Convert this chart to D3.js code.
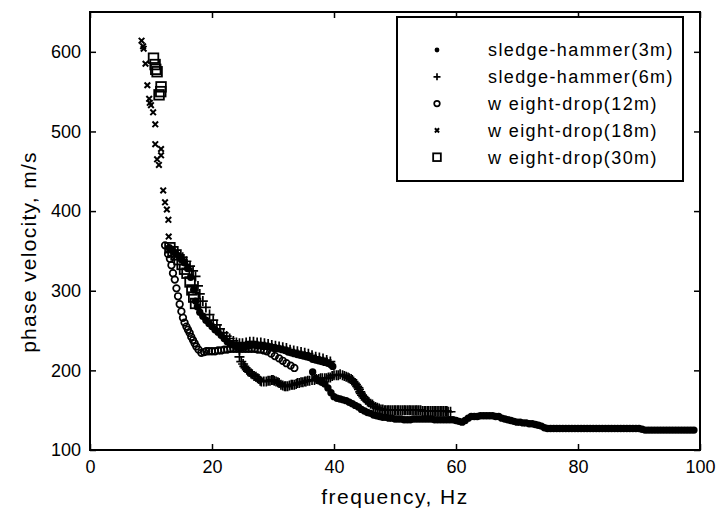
<!DOCTYPE html>
<html>
<head>
<meta charset="utf-8">
<script src="https://cdn.jsdelivr.net/npm/d3@7"></script>
<style>
  html, body { margin: 0; padding: 0; background: #fff; }
  svg { display: block; }
  text { font-family: "Liberation Sans", Arial, sans-serif; fill: #000; }
</style>
</head>
<body>
<svg id="chart" width="719" height="514"></svg>
<script>
// ---------------- data (frequency Hz, phase velocity m/s) ----------------
const seriesNames = ["sledge-hammer(3m)", "sledge-hammer(6m)", "w eight-drop(12m)", "w eight-drop(18m)", "w eight-drop(30m)"];
const xTicks = [0, 20, 40, 60, 80, 100];
const yTicks = [100, 200, 300, 400, 500, 600];

const sledge3m = [
  [13.0,354],[13.5,351],[14.0,347],[14.5,344],[15.0,339],[15.5,335],[16.0,328],[16.5,317],[17.0,301],[17.3,287],
  [17.6,280],[18.0,273],[18.5,268],[19.0,263],[19.5,259],[20.0,255],[20.5,251],[21.0,248],[21.5,244],[22.0,240],
  [22.5,236],[23.0,233],[23.5,232],[24.0,230],[24.5,229],[25.0,229],[25.5,230],[26.0,231],[26.5,232],[27.0,232],
  [27.5,231],[28.0,231],[28.5,230],[29.0,230],[29.5,229],[30.0,228],[30.5,227],[31.0,227],[31.5,226],[32.0,225],
  [32.5,223],[33.0,222],[33.5,221],[34.0,220],[34.5,219],[35.0,218],[35.5,217],[36.0,216],[36.5,214],[37.0,213],
  [37.5,212],[38.0,211],[38.5,210],[39.0,209],[39.5,207],[39.8,205],
  [36.5,198],[37.0,190],[37.5,187],[38.0,185],[38.5,183],[39.0,178],[39.5,172],[40.0,167],[40.5,165],[41.0,164],
  [41.5,163],[42.0,162],[42.5,160],[43.0,158],[43.5,156],[44.0,154],[44.5,151],[45.0,149],[45.5,147],[46.0,146],
  [46.5,144],[47.0,143],[47.5,142],[48.0,141],[48.5,141],[49.0,140],[49.5,140],[50.0,139],[50.5,139],[51.0,139],
  [51.5,138],[52.0,138],[52.5,138],[53.0,139],[53.5,139],[54.0,139],[54.5,139],[55.0,139],[55.5,139],[56.0,139],
  [56.5,138],[57.0,138],[57.5,138],[58.0,138],[58.5,138],[59.0,138],[59.5,138],[60.0,137],[60.5,136],[61.0,135],
  [61.5,137],[62.0,140],[62.5,142],[63.0,142],[63.5,142],[64.0,143],[64.5,143],[65.0,143],[65.5,143],[66.0,143],
  [66.5,142],[67.0,142],[67.5,140],[68.0,139],[68.5,138],[69.0,137],[69.5,136],[70.0,135],[70.5,135],[71.0,134],
  [71.5,134],[72.0,133],[72.5,133],[73.0,132],[73.5,131],[74.0,130],[74.5,128],[75.0,127],[75.5,127],[76.0,127],
  [76.5,127],[77.0,127],[77.5,127],[78.0,127],[78.5,127],[79.0,127],[79.5,127],[80.0,127],[80.5,127],[81.0,127],
  [81.5,127],[82.0,127],[82.5,127],[83.0,127],[83.5,127],[84.0,127],[84.5,127],[85.0,127],[85.5,127],[86.0,127],
  [86.5,127],[87.0,127],[87.5,127],[88.0,127],[88.5,127],[89.0,127],[89.5,127],[90.0,127],[90.5,126],[91.0,125],
  [91.5,125],[92.0,125],[92.5,125],[93.0,125],[93.5,125],[94.0,125],[94.5,125],[95.0,125],[95.5,125],[96.0,125],
  [96.5,125],[97.0,125],[97.5,125],[98.0,125],[98.5,125],[99.0,125]
];

const sledge6m = [
  [15.2,342],[15.8,337],[16.4,331],[16.9,325],[17.3,318],[17.7,306],[18.0,296],[18.5,287],[19.0,279],[19.6,270],
  [20.2,263],[20.8,257],[21.3,252],[21.9,247],[22.4,243],[22.9,240],[23.5,237],[24.0,235],[24.5,234],
  [25.0,234],[25.6,235],[26.2,236],[26.8,236],[27.4,235],[28.0,235],[28.6,234],[29.2,233],[29.8,232],[30.4,231],
  [31.0,230],[31.6,229],[32.2,228],[32.8,226],[33.4,225],[34.0,224],[34.6,223],[35.2,222],[35.8,221],[36.4,219],
  [37.0,217],[37.6,216],[38.2,215],[38.8,213],[39.4,211],
  [24.5,226],[24.5,217],[24.8,211],[25.1,208],[25.3,205],[25.5,203],[25.7,201],[25.9,199],[26.1,198],[26.4,196],
  [26.6,195],[26.9,193],[27.2,192],[27.5,190],[27.7,189],[27.9,187],[28.1,186],[28.5,186],[28.9,186],[29.2,187],
  [29.5,187],[29.8,188],[30.0,188],[30.2,187],[30.5,186],[30.8,185],[31.0,184],[31.3,182],[31.6,181],[31.9,180],
  [32.1,180],[32.4,180],[32.7,181],[33.0,182],[33.2,182],[33.5,182],[33.8,183],[34.0,184],[34.3,184],[34.6,185],
  [34.9,185],[35.2,186],[35.4,186],[35.7,187],[36.0,187],[36.4,188],[36.8,188],[37.1,189],[37.5,189],[37.8,190],
  [38.1,190],[38.5,190],[38.8,190],[39.1,191],[39.4,191],[39.7,193],[40.0,194],[40.4,194],[40.7,194],[41.0,195],
  [41.4,194],[41.7,193],[42.0,192],[42.3,191],[42.5,190],[42.8,189],[43.0,188],[43.2,186],[43.4,184],[43.6,182],
  [43.8,180],[44.0,178],[44.1,176],[44.3,173],[44.4,171],[44.6,169],[44.8,167],[45.0,165],[45.2,163],[45.5,161],
  [45.7,160],[46.0,158],[46.3,157],[46.5,155],[46.8,154],[47.1,153],[47.4,152],[47.7,151],[48.0,151],[48.3,150],
  [48.5,150],[48.8,150],[49.0,150],[49.3,150],[49.6,150],[49.9,150],[50.1,150],[50.4,150],[50.6,150],[50.9,150],
  [51.2,150],[51.5,150],[51.7,150],[52.0,150],[52.3,150],[52.5,150],[52.8,150],[53.1,150],[53.4,150],[53.6,150],
  [53.9,150],[54.2,150],[54.5,149],[54.8,149],[55.0,149],[55.3,149],[55.5,149],[55.8,149],[56.1,149],[56.4,149],
  [56.6,149],[56.9,149],[57.2,149],[57.5,149],[57.7,149],[58.0,149],[58.3,149],[58.5,149],[58.7,148],[59.1,148]
];

const weight12m = [
  [12.3,357],[12.8,346],[13.1,340],[13.35,332],[13.6,322],[13.9,314],[14.17,303],[14.43,293],[14.7,283],[14.98,274],
  [15.24,266],[15.5,260],[15.8,255],[16.06,251],[16.34,247],[16.6,242],[16.88,238],[17.15,234],[17.43,230],[17.8,226],
  [18.25,222],[18.7,223],[19.07,224],[19.5,224],[20.0,224],[20.5,224],[21.0,225],[21.5,225],[22.0,226],[22.5,226],
  [23.0,227],[23.5,227],[24.0,227],[24.5,227],[25.0,227],[25.5,227],[26.0,227],[26.5,227],[27.0,227],[27.5,226],
  [28.0,226],[28.5,225],[29.0,224],
  [29.7,221],[30.3,218],[31.0,215],[31.6,212],[32.2,209],[32.9,206],[33.5,203]
];

const weight18m = [
  [8.45,614],[8.7,607],[8.8,604],[9.1,585],[9.4,558],[9.7,541],[9.8,536],[10.0,533],[10.35,524],[10.7,509],
  [10.7,484],[11.65,478],[11.65,470],[11.0,465],[11.3,458],[12.0,426],[12.3,411],[12.6,402],[12.85,389],[12.9,368]
];

const weight30m = [
  [10.41,592],[10.67,584],[10.78,578],[11.0,575],[11.65,556],[11.6,550],[11.32,546],
  [13.1,354],[13.6,349],[14.1,345],[14.6,339],[15.1,333],[15.5,327],[15.9,322],[16.4,311],[16.7,301],[17.0,292],[17.3,284]
];

// ---------------- layout ----------------
const svg = d3.select("#chart");
const mLeft = 90, mRight = 700, mTop = 12, mBottom = 450;
const x = d3.scaleLinear().domain([0, 100]).range([mLeft, mRight]);
const y = d3.scaleLinear().domain([100, 650]).range([mBottom, mTop]);

const tickLen = 6;
const fontTick = 18;

// axes (ticks inward)
svg.append("g").attr("transform", `translate(0,${mBottom})`)
  .call(d3.axisBottom(x).tickValues(xTicks).tickSizeInner(-tickLen).tickSizeOuter(0).tickPadding(10))
  .call(g => g.select(".domain").remove());
svg.append("g").attr("transform", `translate(0,${mTop})`)
  .call(d3.axisTop(x).tickValues(xTicks).tickSizeInner(-tickLen).tickSizeOuter(0).tickFormat(""))
  .call(g => g.select(".domain").remove());
svg.append("g").attr("transform", `translate(${mLeft},0)`)
  .call(d3.axisLeft(y).tickValues(yTicks).tickSizeInner(-tickLen).tickSizeOuter(0).tickPadding(9))
  .call(g => g.select(".domain").remove());
svg.append("g").attr("transform", `translate(${mRight},0)`)
  .call(d3.axisRight(y).tickValues(yTicks).tickSizeInner(-tickLen).tickSizeOuter(0).tickFormat(""))
  .call(g => g.select(".domain").remove());

svg.selectAll(".tick line").attr("stroke", "#000").attr("stroke-width", 1.5);
svg.selectAll(".tick text").attr("font-size", fontTick)
  .style("font-family", '"Liberation Sans", Arial, sans-serif').attr("fill", "#000");

// frame
svg.append("rect").attr("x", mLeft).attr("y", mTop).attr("width", mRight - mLeft).attr("height", mBottom - mTop)
  .attr("fill", "none").attr("stroke", "#000").attr("stroke-width", 2);

// axis titles
svg.append("text").attr("x", (mLeft + mRight) / 2).attr("y", 504).attr("text-anchor", "middle")
  .attr("font-size", 21).attr("letter-spacing", 1.5).text("frequency, Hz");
svg.append("text").attr("transform", `translate(36,252) rotate(-90)`)
  .attr("text-anchor", "middle").attr("font-size", 21).attr("letter-spacing", 1.3).text("phase velocity, m/s");

// ---------------- markers ----------------
const markers = {
  dot: (g, cx, cy, s) => g.append("circle").attr("cx", cx).attr("cy", cy).attr("r", 3.7 * s).attr("fill", "#000"),
  plus: (g, cx, cy, s) => g.append("path")
    .attr("d", `M${cx - 5 * s},${cy}H${cx + 5 * s}M${cx},${cy - 5 * s}V${cy + 5 * s}`)
    .attr("stroke", "#000").attr("stroke-width", 1.7).attr("fill", "none"),
  circle: (g, cx, cy, s) => g.append("circle").attr("cx", cx).attr("cy", cy).attr("r", 3.3 * s)
    .attr("fill", "none").attr("stroke", "#000").attr("stroke-width", 1.7),
  cross: (g, cx, cy, s) => g.append("path")
    .attr("d", `M${cx - 2.8 * s},${cy - 2.8 * s}L${cx + 2.8 * s},${cy + 2.8 * s}M${cx - 2.8 * s},${cy + 2.8 * s}L${cx + 2.8 * s},${cy - 2.8 * s}`)
    .attr("stroke", "#000").attr("stroke-width", 2).attr("fill", "none"),
  square: (g, cx, cy, s) => g.append("rect").attr("x", cx - 4.8 * s).attr("y", cy - 4.8 * s)
    .attr("width", 9.6 * s).attr("height", 9.6 * s)
    .attr("fill", "none").attr("stroke", "#000").attr("stroke-width", 1.8)
};

const series = [
  { name: seriesNames[0], data: sledge3m, marker: "dot" },
  { name: seriesNames[1], data: sledge6m, marker: "plus" },
  { name: seriesNames[2], data: weight12m, marker: "circle" },
  { name: seriesNames[3], data: weight18m, marker: "cross" },
  { name: seriesNames[4], data: weight30m, marker: "square" }
];

const plot = svg.append("g");
series.forEach(s => {
  const g = plot.append("g").attr("class", "series");
  s.data.forEach(d => markers[s.marker](g, x(d[0]), y(d[1]), 1));
});

// ---------------- legend ----------------
const lg = svg.append("g");
lg.append("rect").attr("x", 397).attr("y", 17).attr("width", 286).attr("height", 164)
  .attr("fill", "#fff").attr("stroke", "#000").attr("stroke-width", 2);
const legendScale = { dot: 0.65, plus: 0.7, circle: 0.85, cross: 0.75, square: 0.8 };
series.forEach((s, i) => {
  const cy = 50 + i * 26.8;
  markers[s.marker](lg, 437, cy, legendScale[s.marker]);
  lg.append("text").attr("x", 488).attr("y", cy).attr("dy", "0.36em")
    .attr("font-size", 18).attr("letter-spacing", 1.4).text(s.name);
});
</script>
</body>
</html>
